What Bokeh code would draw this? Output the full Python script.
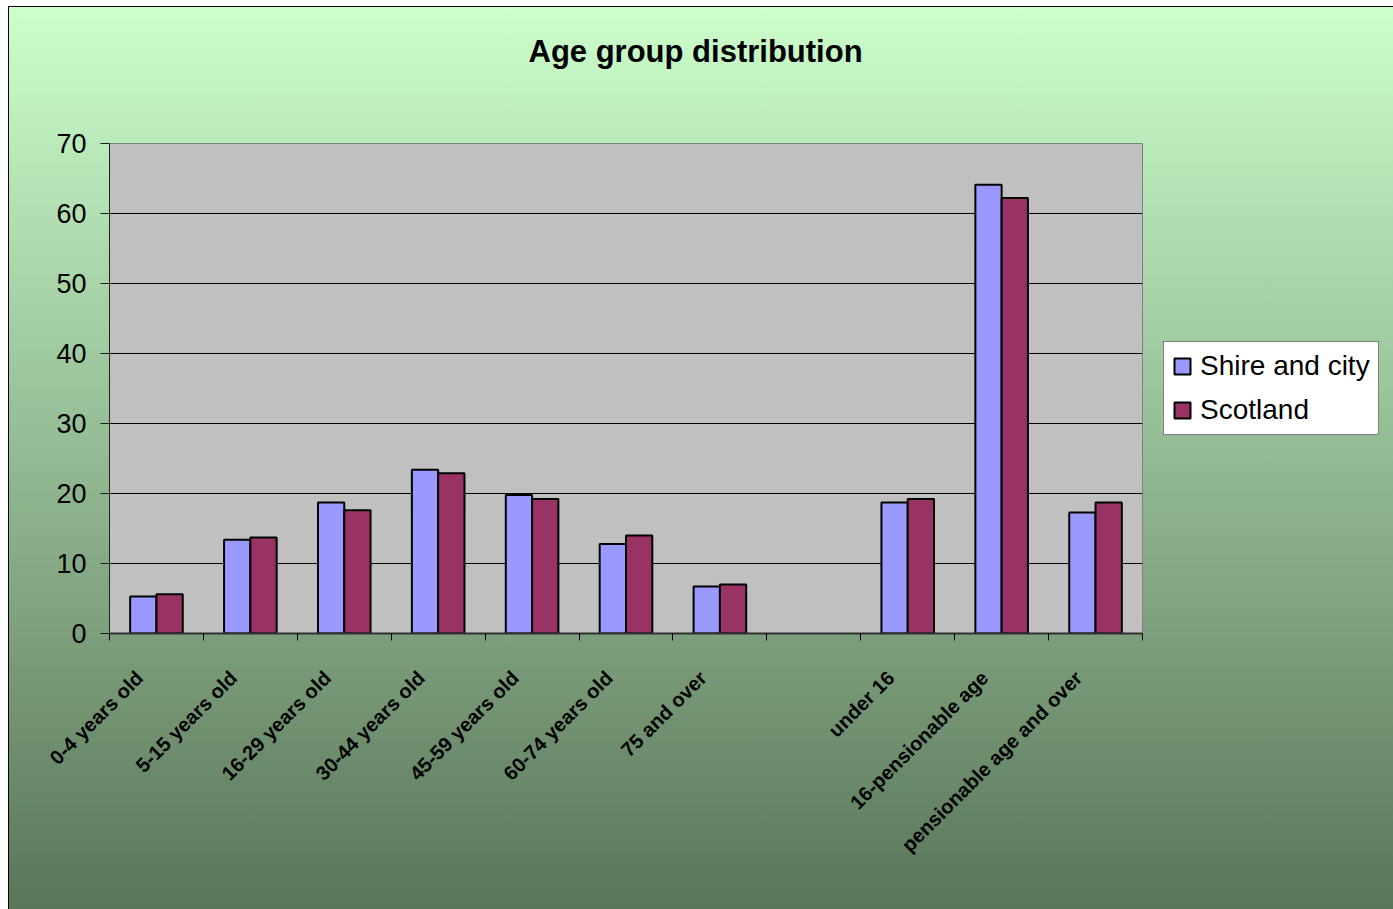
import math
from bokeh.plotting import figure
from bokeh.models import (ColumnDataSource, Range1d, FixedTicker, Legend, LegendItem,
                          LinearAxis, Title)
from bokeh.transform import dodge
from bokeh.embed import file_html
from bokeh.resources import INLINE

# ---- data ----
categories = ["0-4 years old", "5-15 years old", "16-29 years old", "30-44 years old",
              "45-59 years old", "60-74 years old", "75 and over", "",
              "under 16", "16-pensionable age", "pensionable age and over"]
shire_and_city = [5.3, 13.4, 18.7, 23.4, 19.8, 12.8, 6.7, float("nan"), 18.7, 64.1, 17.3]
scotland = [5.6, 13.7, 17.6, 22.9, 19.2, 14.0, 7.0, float("nan"), 19.2, 62.2, 18.7]
series_names = ["Shire and city", "Scotland"]
y_ticks = [0, 10, 20, 30, 40, 50, 60, 70]
title_text = "Age  group distribution"

centers = [i + 0.5 for i in range(len(categories))]
src = ColumnDataSource(dict(x=centers, shire=shire_and_city, scot=scotland))

FONT = "Liberation Sans"

p = figure(frame_width=1033, frame_height=490, output_backend="svg", toolbar_location=None,
           x_range=Range1d(0, len(categories)), y_range=Range1d(0, 70),
           min_border_left=109, min_border_right=251, min_border_top=143,
           min_border_bottom=276, x_axis_type=None)
p.border_fill_color = None
p.background_fill_color = "#C0C0C0"
p.outline_line_color = "#808080"
p.outline_line_width = 1

p.title.text = title_text
p.title.align = "left"
p.title.offset = 419
p.title.text_font = FONT
p.title.text_font_style = "bold"
p.title.text_font_size = "31px"
p.title.text_color = "black"
p.title.standoff = 62

# thin spacer between the title and the plot area
spacer = Title(text=" ", text_font_size="1px", standoff=41)
p.add_layout(spacer, "above")

r1 = p.vbar(x=dodge("x", -0.14, range=p.x_range), top="shire", width=0.28, source=src,
            fill_color="#9999FF", line_color="black", line_width=2)
r2 = p.vbar(x=dodge("x", 0.14, range=p.x_range), top="scot", width=0.28, source=src,
            fill_color="#993366", line_color="black", line_width=2)

# x axis: labels near category centres, ticks at category boundaries
label_pos = [c - 0.18 for c in centers]
xaxis = LinearAxis(ticker=FixedTicker(ticks=label_pos, minor_ticks=list(range(len(categories) + 1))))
xaxis.major_label_overrides = {c: lab for c, lab in zip(label_pos, categories)}
xaxis.major_label_orientation = math.pi / 4
xaxis.major_tick_out = 0
xaxis.major_tick_in = 0
xaxis.minor_tick_out = 7
xaxis.minor_tick_in = 0
xaxis.minor_tick_line_color = "black"
xaxis.minor_tick_line_width = 1
xaxis.axis_line_color = "#303030"
xaxis.axis_line_width = 2
xaxis.major_label_text_font = FONT
xaxis.major_label_text_font_style = "bold"
xaxis.major_label_text_font_size = "20px"
xaxis.major_label_text_color = "black"
xaxis.major_label_standoff = 34
p.add_layout(xaxis, "below")

yaxis = p.yaxis[0]
yaxis.ticker = FixedTicker(ticks=y_ticks)
yaxis.major_tick_out = 9
yaxis.major_tick_in = 0
yaxis.minor_tick_line_color = None
yaxis.axis_line_color = "#202020"
yaxis.axis_line_width = 1
yaxis.major_tick_line_color = "#202020"
yaxis.major_label_text_font = FONT
yaxis.major_label_text_font_size = "27px"
yaxis.major_label_text_color = "black"
yaxis.major_label_standoff = 14

p.xgrid.visible = False
p.ygrid.ticker = FixedTicker(ticks=y_ticks)
p.ygrid.grid_line_color = "black"
p.ygrid.grid_line_width = 1

legend = Legend(items=[LegendItem(label=series_names[0], renderers=[r1]),
                       LegendItem(label=series_names[1], renderers=[r2])],
                location="center_left", orientation="vertical")
legend.margin = 21
legend.padding = 8
legend.spacing = 12
legend.glyph_width = 20
legend.glyph_height = 20
legend.label_standoff = 8
legend.label_text_font = FONT
legend.label_text_font_size = "28px"
legend.label_text_color = "black"
legend.border_line_color = "black"
legend.border_line_width = 1
legend.background_fill_color = "white"
legend.background_fill_alpha = 1
p.add_layout(legend, "right")

html = file_html(p, INLINE, title="Age group distribution")
style = """<style>
html, body { margin: 0; padding: 0; }
body {
  background:
    linear-gradient(#000, #000) 8px 6px / 1px 903px no-repeat,
    linear-gradient(#000, #000) 8px 6px / 1385px 1px no-repeat,
    linear-gradient(to bottom, #CCFFCC, #5A755A) 8px 6px / 1385px 903px no-repeat,
    #ffffff;
  min-height: 909px;
}
</style>"""
html = html.replace("</head>", style + "\n</head>", 1)
open("out.html", "w").write(html)
